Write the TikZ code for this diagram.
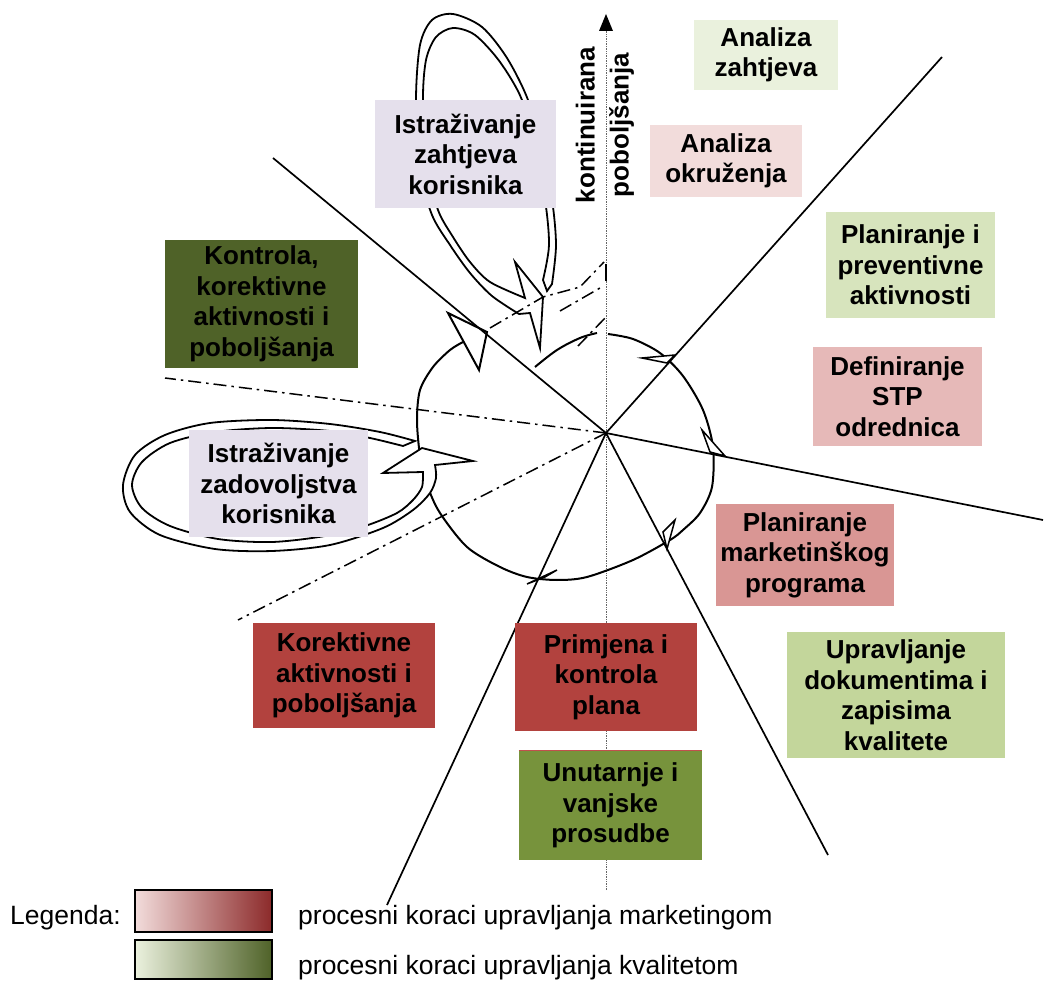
\documentclass[tikz,border=0pt]{standalone}
\usepackage{fontspec}
\setmainfont{Liberation Sans}
\usetikzlibrary{calc}
\definecolor{cAZ}{HTML}{EAF1DD}
\definecolor{cAO}{HTML}{F2DCDB}
\definecolor{cLav}{HTML}{E5E0EC}
\definecolor{cPP}{HTML}{D7E4BD}
\definecolor{cSTP}{HTML}{E6B9B8}
\definecolor{cKon}{HTML}{4F6228}
\definecolor{cPM}{HTML}{D99694}
\definecolor{cRed}{HTML}{B2423E}
\definecolor{cUpr}{HTML}{C3D69B}
\definecolor{cUnu}{HTML}{77933C}
\definecolor{cRedLine}{HTML}{C0504D}
\definecolor{gPinkL}{HTML}{F2DCDB}
\definecolor{gPinkR}{HTML}{8C2A2A}
\definecolor{gGreenL}{HTML}{EBF1DE}
\definecolor{gGreenR}{HTML}{4F6228}
\begin{document}
\begin{tikzpicture}[x=1pt,y=-1pt,
  box/.style={inner sep=0pt, align=center, text=black,
    font=\bfseries\fontsize{26}{30.5}\selectfont},
  ray/.style={line width=1.7pt},
  dashdot/.style={line width=1.5pt, dash pattern=on 13pt off 5pt on 2.5pt off 5pt},
  circ/.style={line width=2pt, line join=miter},
  band/.style={line width=1.8pt, fill=white, line join=miter},
  tinyhead/.style={line width=1.5pt, fill=white, line join=miter},
  legbox/.style={draw=black, line width=1.6pt},
  legtext/.style={anchor=west, inner sep=0pt, font=\fontsize{26.5}{30}\selectfont}]
\useasboundingbox (0,0) rectangle (1045,981);

% named points
\coordinate (C) at (606,433);
\coordinate (rUL) at (273,158);
\coordinate (rUR) at (942,57);
\coordinate (rR) at (1043,520);
\coordinate (rLR) at (828,855);
\coordinate (rLL) at (387,905);
\coordinate (dL) at (165,378);
\coordinate (dLL) at (238,620);
\coordinate (vtop) at (606,14);
\coordinate (vbot) at (606,890);

% vertical dotted axis with arrow
\draw[densely dotted, gray!80!black, line width=0.7pt] (vbot) -- ($(vtop)+(0,16)$);
\fill (vtop) -- ++(7,17) -- ++(-14,0) -- cycle;

% main circular arrow
\draw[circ] plot[smooth, tension=0.6] coordinates {(535,367) (557,350) (580,338) (597,333)};
\draw[circ] plot[smooth] coordinates {(608,334) (633,339) (660,353) (683,376) (703,410) (713,447) (712,487) (700,513) (683,530) (670,540) (633,560) (587,577) (557,580) (527,577) (500,567) (467,547) (440,513) (428,487) (420,455) (417,420) (420,390) (433,367) (450,350) (463,342)};
\draw[circ] (448,313) -- (487,332) -- (479,370) -- cycle;
\draw[tinyhead] (642,358) -- (675,355) -- (667,363) -- cycle;
\draw[tinyhead] (702,430) -- (725,456) -- (710,452) -- cycle;
\draw[tinyhead] (675,520) -- (667,549) -- (663,532) -- cycle;
\draw[tinyhead] (557,570) -- (527,584) -- (545,577) -- cycle;

% top loop (Istrazivanje zahtjeva)
\draw[band] plot[smooth] coordinates {(552,284) (556,245) (552,200) (541,150) (528,100) (507,58) (482,27) (453,14) (432,20) (420,45) (416,100) (420,170) (432,215) (450,245) (470,273) (492,296) (519,314)}
  -- (530,313) -- (540,348) -- (543,297) -- (515,262) -- (525,298)
  -- plot[smooth] coordinates {(525,298) (490,282) (470,262) (453,237) (438,210) (427,165) (423,100) (426,60) (436,37) (453,28) (475,35) (500,62) (522,100) (534,150) (545,200) (549,245) (543,280)}
  -- (547,291) -- cycle;

% left loop (Istrazivanje zadovoljstva)
\draw[band] plot[smooth] coordinates {(415,441) (380,432) (330,424) (272,420) (210,423) (165,435) (135,455) (123,485) (130,512) (160,535) (215,549) (272,551) (330,545) (383,528) (413,510) (430,493) (436,478) (435,465)}
  -- (473,461) -- (422,448) -- (383,473) -- (423,472)
  -- plot[smooth] coordinates {(423,472) (422,487) (413,500) (397,513) (365,526) (325,536) (272,542) (218,539) (170,526) (142,508) (132,485) (142,462) (170,443) (215,432) (272,428) (330,431) (370,438) (403,446)}
  -- cycle;

% rays
\draw[ray] (C) -- (rUL);
\draw[ray] (C) -- (rUR);
\draw[ray] (C) -- (rR);
\draw[ray] (C) -- (rLR);
\draw[ray] (C) -- (rLL);
\draw[dashdot] (C) -- (dL);
\draw[dashdot] (C) -- (dLL);

% small dash-dot traces near the top
\draw[dashdot] (490,328) -- (543,297) -- (580,287) -- (604,262);
\draw[dashdot] (560,311) -- (600,288);
\draw[dashdot] (578,346) -- (607,316);
\draw[line width=1.5pt] (606,264) -- (606,281);

% boxes
\node[box, fill=cAZ, minimum width=144pt, minimum height=70pt] (az) at (766,55) {Analiza\\zahtjeva};
\node[box, fill=cAO, minimum width=152pt, minimum height=72pt] (ao) at (726,161) {Analiza\\okruženja};
\node[box, fill=cLav, minimum width=181pt, minimum height=108pt] (izk) at (465.5,154) {Istraživanje\\zahtjeva\\korisnika};
\node[box, fill=cPP, minimum width=169pt, minimum height=106pt] (ppa) at (910.5,265) {Planiranje i\\preventivne\\aktivnosti};
\node[box, fill=cSTP, minimum width=169pt, minimum height=99pt] (stp) at (897.5,396.5) {Definiranje\\STP\\odrednica};
\node[box, fill=cKon, minimum width=193pt, minimum height=128pt] (kon) at (261.5,304) {Kontrola,\\korektivne\\aktivnosti i\\poboljšanja};
\node[box, fill=cLav, minimum width=179pt, minimum height=107pt] (izz) at (278.5,483.5) {Istraživanje\\zadovoljstva\\korisnika};
\node[box, fill=cPM, minimum width=178pt, minimum height=102pt] (pmp) at (805,555) {Planiranje\\marketinškog\\programa};
\node[box, fill=cRed, minimum width=182pt, minimum height=105pt] (kap) at (344,675.5) {Korektivne\\aktivnosti i\\poboljšanja};
\node[box, fill=cRed, minimum width=182pt, minimum height=108pt] (pkp) at (606,677) {Primjena i\\kontrola\\plana};
\node[box, fill=cUpr, minimum width=218pt, minimum height=126pt] (udz) at (896,695) {Upravljanje\\dokumentima i\\zapisima\\kvalitete};
\node[box, fill=cUnu, minimum width=183pt, minimum height=109pt] (uvp) at (610.5,805.5) {Unutarnje i\\vanjske\\prosudbe};
\draw[cRedLine, line width=0.9pt] (uvp.north west) -- (uvp.north east);

% rotated label
\node[rotate=90, align=center, inner sep=0pt, font=\bfseries\fontsize{26}{34}\selectfont] (kp) at (605,125) {kontinuirana\\poboljšanja};

% legend
\node[legtext] (leg) at (10,918) {Legenda:};
\draw[legbox, left color=gPinkL, right color=gPinkR] (135,890) rectangle (272,932);
\draw[legbox, left color=gGreenL, right color=gGreenR] (135,940) rectangle (272,979);
\node[legtext] (l1) at (298,918) {procesni koraci upravljanja marketingom};
\node[legtext] (l2) at (298,968) {procesni koraci upravljanja kvalitetom};
\end{tikzpicture}
\end{document}
